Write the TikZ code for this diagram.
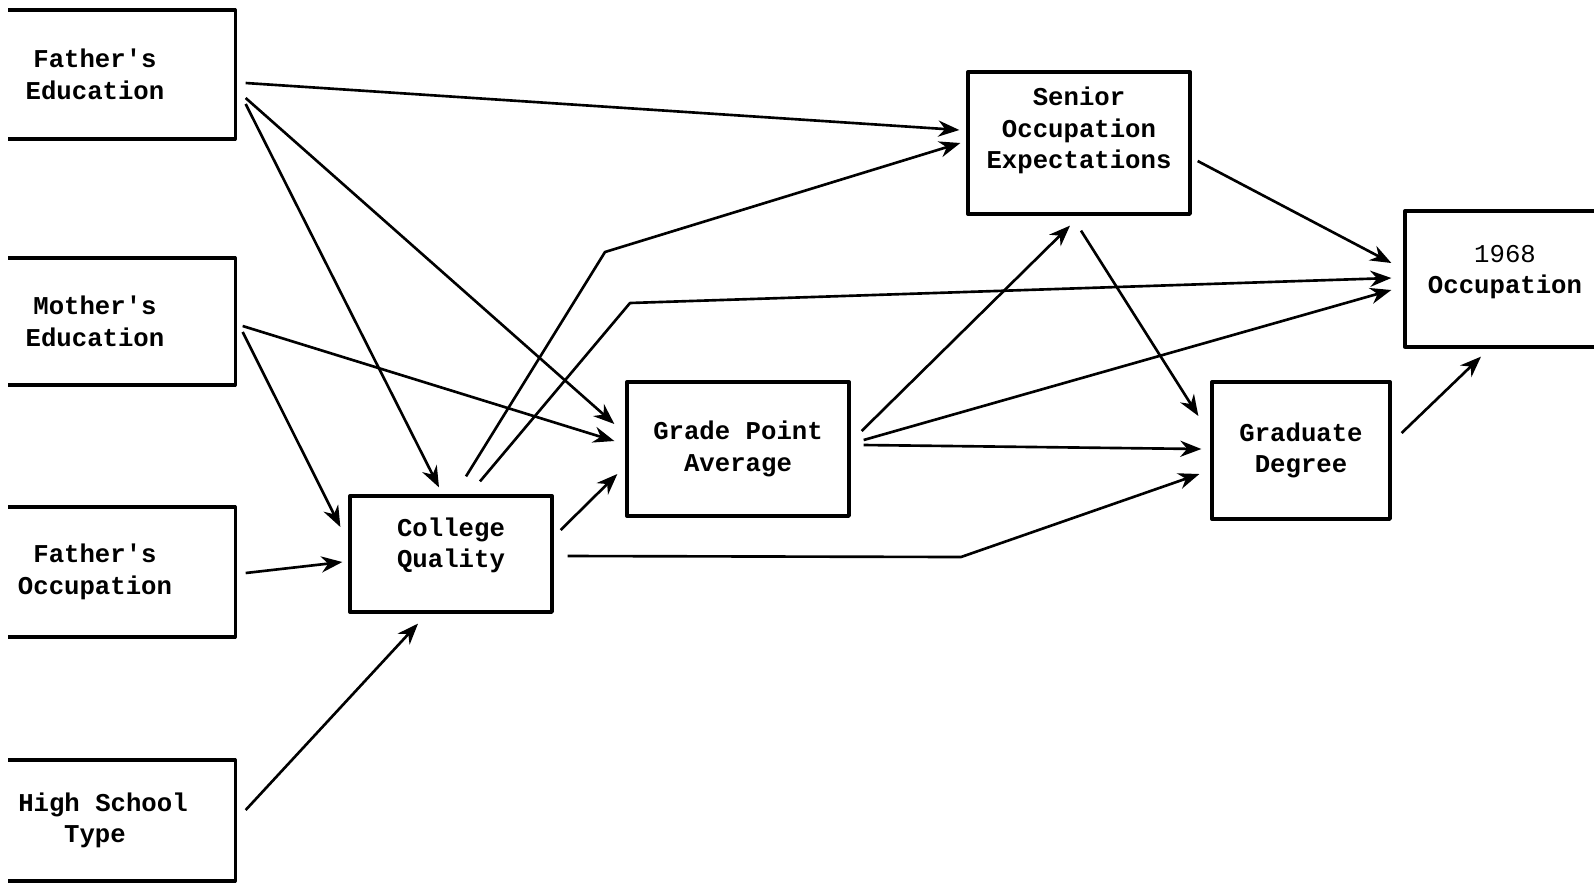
\documentclass[tikz,border=0pt]{standalone}
\usepackage{fontspec}
\setmonofont{Liberation Mono}
\usetikzlibrary{arrows.meta}

% text block raised inside its box
\newcommand{\uptext}[2]{\raisebox{#1}[0pt][0pt]{\begin{tabular}{@{}c@{}}#2\end{tabular}}}

\begin{document}
\begin{tikzpicture}[
    x=0.01cm,
    y=-0.01cm,
    line join=round,
    box/.style={draw, line width=0.9pt, align=center, inner sep=0pt,
      font=\ttfamily\bfseries\fontsize{7.3}{9}\selectfont},
    path/.style={line width=0.75pt, -{Stealth[length=6pt,width=4.6pt]}}
  ]

  \useasboundingbox (0,0) rectangle (1594,884);
  \clip (8,0) rectangle (1594,884);

  % background variables (left column)
  \node[box, minimum width=2.8cm, minimum height=1.29cm] (fe) at (95,74.5)  {Father's\\Education};
  \node[box, minimum width=2.8cm, minimum height=1.27cm] (me) at (95,321.5) {Mother's\\Education};
  \node[box, minimum width=2.8cm, minimum height=1.30cm] (fo) at (95,572)   {Father's\\Occupation};
  \node[box, minimum width=2.8cm, minimum height=1.21cm] (hs) at (95,820.5) {\hspace{1.6mm}High School\\Type};
  %
  \node[box, minimum width=2.02cm, minimum height=1.16cm] (cq)  at (451,554)    {\uptext{0.6pt}{College\\Quality}};
  \node[box, minimum width=2.22cm, minimum height=1.34cm] (gpa) at (738,449)    {Grade Point\\Average};
  \node[box, minimum width=2.22cm, minimum height=1.42cm] (soe) at (1079,143)   {\uptext{1.7pt}{Senior\\Occupation\\Expectations}};
  \node[box, minimum width=1.78cm, minimum height=1.37cm] (gd)  at (1301,450.5) {Graduate\\Degree};
  \node[box, minimum width=2.00cm, minimum height=1.36cm] (occ) at (1505,279)   {\uptext{0.3pt}{\mdseries 1968\\Occupation}};

  \coordinate (k1) at (605,252);
  \coordinate (k2) at (630,303);
  \coordinate (k3) at (961,557);

  \draw[path] ([shift={(9,8.5)}]fe.east)   -- ([shift={(-7,-13)}]soe.west);
  \draw[path] ([shift={(9,23.5)}]fe.east)  -- ([shift={(-11,-25)}]gpa.west);
  \draw[path] ([shift={(9,29.5)}]fe.east)  -- ([shift={(-12,-7)}]cq.north);
  %
  \draw[path] ([shift={(6,4.5)}]me.east)   -- ([shift={(-11,-8)}]gpa.west);
  \draw[path] ([shift={(6,10.5)}]me.east)  -- ([shift={(-8,-27)}]cq.west);
  %
  \draw[path] ([shift={(9,1)}]fo.east)     -- ([shift={(-6,8)}]cq.west);
  \draw[path] ([shift={(9,-10.5)}]hs.east) -- ([shift={(-33,10)}]cq.south);
  %
  \draw[path] ([shift={(15,-18)}]cq.north) -- (k1) -- ([shift={(-6,0)}]soe.west);
  \draw[path] ([shift={(29,-13)}]cq.north) -- (k2) -- ([shift={(-12,-1)}]occ.west);
  \draw[path] ([shift={(7,-24)}]cq.east)   -- ([shift={(-8,25)}]gpa.west);
  \draw[path] ([shift={(14,2)}]cq.east)    -- (k3) -- ([shift={(-11,23.5)}]gd.west);
  %
  \draw[path] ([shift={(11,-18)}]gpa.east) -- ([shift={(-9,10)}]soe.south);
  \draw[path] ([shift={(13,-9)}]gpa.east)  -- ([shift={(-12,11)}]occ.west);
  \draw[path] ([shift={(13,-4)}]gpa.east)  -- ([shift={(-9,-1.5)}]gd.west);
  %
  \draw[path] ([shift={(6,18)}]soe.east)   -- ([shift={(-12,-16)}]occ.west);
  \draw[path] ([shift={(2,15)}]soe.south)  -- ([shift={(-12,-34.5)}]gd.west);
  \draw[path] ([shift={(10,-17.5)}]gd.east) -- ([shift={(-24,8)}]occ.south);
\end{tikzpicture}
\end{document}
